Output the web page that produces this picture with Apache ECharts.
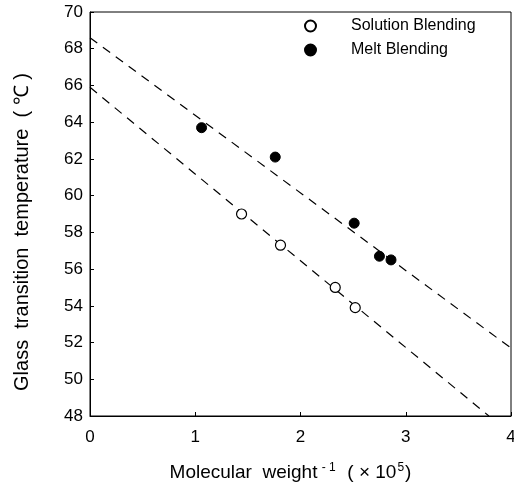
<!DOCTYPE html>
<html><head><meta charset="utf-8">
<script src="https://cdn.jsdelivr.net/npm/echarts@6/dist/echarts.min.js"></script>
<style>html,body{margin:0;padding:0;background:#fff}#c{width:514px;height:490px}</style>
</head><body><div id="c"></div>
<script>
var xTicks = [0, 1, 2, 3, 4];
var yTicks = [48, 50, 52, 54, 56, 58, 60, 62, 64, 66, 68, 70];
var solutionX = [1.44, 1.81, 2.33, 2.52];
var solutionY = [59.0, 57.3, 55.0, 53.9];
var meltX = [1.06, 1.76, 2.51, 2.75, 2.86];
var meltY = [63.7, 62.1, 58.5, 56.7, 56.5];
var meltFitX = [0, 4];
var meltFitY = [68.6, 51.7];
var solFitX = [0, 3.79];
var solFitY = [65.9, 48.0];

function pairs(xs, ys){ return xs.map(function(x,i){return [x, ys[i]];}); }

var chart = echarts.init(document.getElementById('c'), null, {renderer:'canvas'});
var font = 'Liberation Sans, Arial, Helvetica, sans-serif';
chart.setOption({
  animation:false,
  backgroundColor:'#fff',
  textStyle:{fontFamily:font},
  grid:{left:90, right:3, top:12, bottom:74, show:true, borderColor:'#000', borderWidth:1, outerBoundsMode:'none', containLabel:false},
  legend:{
    orient:'vertical', left:299, top:13, itemGap:8, itemWidth:11, itemHeight:11,
    textStyle:{fontFamily:font, fontSize:16, color:'#000', padding:[0,0,0,30]},
    data:[{name:'Solution Blending', icon:'circle'},{name:'Melt Blending', icon:'circle'}]
  },
  xAxis:{
    type:'value', min:xTicks[0], max:xTicks[xTicks.length-1], interval:1,
    axisLine:{show:true, onZero:false, lineStyle:{color:'#000'}},
    axisTick:{show:true, inside:true, length:4, lineStyle:{color:'#000'}},
    axisLabel:{color:'#000', fontSize:17, margin:13, fontFamily:font},
    splitLine:{show:false},
    name:'Molecular  weight{s| - 1}  ( × 10{s|5})',
    nameLocation:'middle', nameGap:46,
    nameTextStyle:{color:'#000', fontSize:19, fontFamily:font, padding:[0,20,0,0],
      rich:{s:{fontSize:12, verticalAlign:'top', padding:[0,1,10,1], color:'#000', fontFamily:font}}}
  },
  yAxis:{
    type:'value', min:yTicks[0], max:yTicks[yTicks.length-1], interval:2,
    axisLine:{show:true, onZero:false, lineStyle:{color:'#000'}},
    axisTick:{show:true, inside:true, length:4, lineStyle:{color:'#000'}},
    axisLabel:{color:'#000', fontSize:17, margin:7, fontFamily:font},
    splitLine:{show:false},
    name:'Glass  transition  temperature  ( ℃ )',
    nameLocation:'middle', nameGap:58, nameRotate:90,
    nameTextStyle:{color:'#000', fontSize:20, fontFamily:font, padding:[0,36,0,0]}
  },
  series:[
    {name:'meltFit', type:'line', data:pairs(meltFitX, meltFitY), showSymbol:false, symbol:'none',
     lineStyle:{color:'#000', width:1.2, type:[9,7]}, silent:true, z:1},
    {name:'solFit', type:'line', data:pairs(solFitX, solFitY), showSymbol:false, symbol:'none',
     lineStyle:{color:'#000', width:1.2, type:[9,7]}, silent:true, z:1},
    {name:'Solution Blending', type:'scatter', data:pairs(solutionX, solutionY), symbol:'circle', symbolSize:10,
     itemStyle:{color:'#fff', borderColor:'#000', borderWidth:1.2, opacity:1}, z:3},
    {name:'Melt Blending', type:'scatter', data:pairs(meltX, meltY), symbol:'circle', symbolSize:10,
     itemStyle:{color:'#000', borderColor:'#000', borderWidth:1, opacity:1}, z:3}
  ]
});
</script></body></html>
